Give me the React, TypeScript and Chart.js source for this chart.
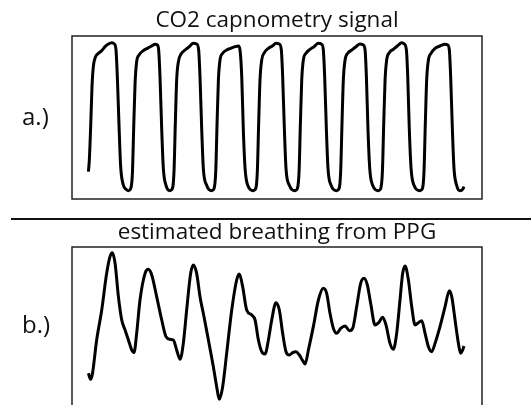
import React, { useEffect, useRef } from "react";
import { Chart, registerables } from "chart.js";

Chart.register(...registerables);

// Time in seconds, CO2 in mmHg (capnometry panel a)
const co2Time = [
  1.23, 1.3, 1.4, 1.5, 1.6, 1.75, 1.98, 2.23, 2.48, 2.73, 2.98, 3.18, 3.3, 3.4, 3.53, 3.65, 3.85, 4.05, 4.23,
  4.4, 4.53, 4.63, 4.73, 4.85, 5.03, 5.35, 5.65, 5.98, 6.23, 6.4, 6.5, 6.6, 6.73, 6.85, 7.05, 7.35,
  7.53, 7.65, 7.75, 7.85, 7.98, 8.18, 8.48, 8.8, 9.1, 9.35, 9.5, 9.6, 9.73, 9.85, 10.1, 10.48,
  10.65, 10.78, 10.88, 10.98, 11.1, 11.3, 11.6, 11.9, 12.23, 12.48, 12.6, 12.73, 12.85, 12.98, 13.18, 13.6,
  13.78, 13.9, 14.0, 14.1, 14.23, 14.43, 14.73, 15.03, 15.3, 15.55, 15.7, 15.8, 15.93, 16.05, 16.3, 16.73,
  16.9, 17.03, 17.13, 17.23, 17.35, 17.55, 17.85, 18.15, 18.48, 18.73, 18.85, 18.95, 19.08, 19.2, 19.43, 19.85,
  20.03, 20.15, 20.25, 20.35, 20.48, 20.68, 20.98, 21.3, 21.6, 21.85, 21.98, 22.08, 22.2, 22.33, 22.55, 22.98,
  23.15, 23.28, 23.38, 23.48, 23.6, 23.8, 24.1, 24.4, 24.73, 24.93, 25.08, 25.18, 25.3, 25.43, 25.65, 26.1,
  26.28, 26.4, 26.5, 26.6, 26.73, 26.93, 27.23, 27.6, 27.98, 28.18, 28.3, 28.4, 28.53, 28.65, 28.85, 29.1, 29.3, 29.4,
];
const co2Values = [
  8.2, 11.7, 21.7, 33.7, 39.7, 42.5, 43.7, 44.5, 45.7, 46.5, 46.9, 46.5, 44.7, 36.7, 21.7, 9.7, 4.2, 2.9, 2.5,
  3.1, 7.7, 21.7, 34.7, 41.2, 43.2, 44.5, 45.2, 45.9, 46.4, 46.2, 44.7, 36.7, 20.7, 9.2, 4.1, 2.5,
  3.1, 8.2, 22.7, 35.7, 41.2, 43.5, 44.7, 45.7, 46.7, 46.5, 44.7, 36.7, 20.7, 9.2, 4.1, 2.5,
  3.1, 8.2, 22.7, 35.7, 41.7, 43.7, 44.7, 45.2, 45.7, 45.9, 44.7, 36.7, 20.7, 9.2, 4.1, 2.5,
  3.1, 8.2, 22.7, 35.7, 41.7, 43.9, 45.2, 45.9, 46.7, 46.5, 44.7, 36.7, 20.7, 9.2, 4.1, 2.5,
  3.1, 8.2, 22.7, 35.7, 41.7, 43.7, 44.9, 45.7, 46.7, 46.4, 44.7, 36.7, 20.7, 9.2, 4.1, 2.5,
  3.1, 8.2, 22.7, 35.7, 41.7, 43.7, 44.7, 45.7, 46.5, 46.2, 44.7, 36.7, 20.7, 9.2, 4.1, 2.5,
  3.1, 8.2, 22.7, 35.7, 41.7, 43.9, 44.9, 45.9, 46.9, 46.5, 44.7, 36.7, 20.7, 9.2, 4.1, 2.5,
  3.1, 8.2, 22.7, 35.7, 41.7, 43.7, 45.2, 45.9, 46.4, 46.2, 44.7, 36.7, 20.7, 9.2, 4.1, 2.5, 2.9, 3.7,
];

// Time in seconds, breathing estimate from PPG in arbitrary units (panel b)
const ppgTime = [
  1.23, 1.4, 1.53, 1.85, 2.23, 2.6, 2.85, 3.03, 3.23, 3.48, 3.73, 3.98, 4.23, 4.48, 4.65,
  4.85, 5.1, 5.48, 5.73, 5.98, 6.35, 6.73, 7.05, 7.35, 7.6, 7.85, 8.1,
  8.35, 8.6, 8.9, 9.1, 9.35, 9.6, 9.9, 10.23, 10.6, 10.85, 11.05,
  11.3, 11.6, 11.98, 12.35, 12.55, 12.8, 13.1, 13.48, 13.73, 13.98, 14.23, 14.48,
  14.73, 14.98, 15.3, 15.55, 15.8, 16.05, 16.3, 16.55, 16.8, 17.05, 17.3, 17.48,
  17.73, 18.1, 18.48, 18.85, 19.1, 19.35, 19.6, 19.85, 20.15, 20.48, 20.8, 21.05,
  21.35, 21.65, 21.9, 22.15, 22.4, 22.73, 23.0, 23.3, 23.55, 23.85, 24.1,
  24.35, 24.6, 24.8, 24.98, 25.23, 25.48, 25.73, 25.98, 26.23, 26.48, 26.73, 26.98,
  27.23, 27.6, 27.98, 28.3, 28.48, 28.73, 28.98, 29.15, 29.3, 29.4,
];
const ppgValues = [
  11.6, 9.8, 11.4, 21.6, 30.6, 41.6, 46.6, 47.8, 44.6, 34.6, 27.6, 24.6, 21.6, 18.6, 17.8,
  23.6, 33.6, 41.6, 42.8, 41.1, 34.6, 27.6, 22.6, 21.8, 21.6, 18.6, 15.8,
  20.6, 30.6, 41.6, 44.1, 41.6, 34.6, 28.6, 21.6, 13.6, 7.6, 3.8,
  7.6, 17.6, 30.6, 39.6, 41.4, 37.6, 30.6, 29.1, 27.6, 21.6, 18.1, 17.4,
  21.6, 27.6, 32.8, 30.6, 23.6, 18.1, 17.1, 17.8, 18.1, 17.1, 15.4, 14.4,
  18.6, 25.6, 33.6, 37.1, 35.6, 29.6, 25.1, 23.6, 25.1, 25.8, 24.4, 25.1,
  31.6, 38.6, 40.1, 38.1, 32.6, 26.1, 26.8, 28.4, 26.1, 20.6, 18.8,
  23.6, 33.6, 41.6, 43.8, 39.6, 31.6, 26.1, 26.8, 27.4, 23.6, 19.6, 18.1,
  20.6, 25.6, 31.6, 36.4, 34.6, 27.6, 20.6, 17.6, 18.6, 19.8,
];

const timeMax = 30.75;
const co2Max = 48.9;
const ppgMax = 49.5;

const FONT = "'Open Sans', 'Noto Sans', sans-serif";
const TITLE_SIZE = 22.5;

const boxPlugin = {
  id: "boxFrame",
  afterDraw(chart: any) {
    const { ctx, chartArea: a } = chart;
    ctx.save();
    ctx.strokeStyle = "#222";
    ctx.lineWidth = 1.5;
    ctx.strokeRect(a.left, a.top, a.right - a.left, a.bottom - a.top);
    ctx.restore();
  },
};

type PanelProps = {
  title: string;
  time: number[];
  values: number[];
  yMax: number;
  top: number;
  height: number;
  titlePad: { top: number; bottom: number };
  bottomPad: number;
};

function Panel({ title, time, values, yMax, top, height, titlePad, bottomPad }: PanelProps) {
  const ref = useRef<HTMLCanvasElement | null>(null);
  useEffect(() => {
    if (!ref.current) return;
    const chart = new Chart(ref.current, {
      type: "line",
      data: {
        datasets: [
          {
            data: time.map((t, i) => ({ x: t, y: values[i] })),
            borderColor: "#000",
            borderWidth: 3,
            pointRadius: 0,
            cubicInterpolationMode: "monotone",
            fill: false,
          },
        ],
      },
      options: {
        animation: false,
        responsive: false,
        maintainAspectRatio: false,
        layout: { padding: { left: 72, right: 49, top: 0, bottom: bottomPad } },
        scales: {
          x: { type: "linear", min: 0, max: timeMax, display: false },
          y: { type: "linear", min: 0, max: yMax, display: false },
        },
        plugins: {
          legend: { display: false },
          tooltip: { enabled: false },
          title: {
            display: true,
            text: title,
            color: "#111",
            font: { family: FONT, size: TITLE_SIZE, weight: "normal", lineHeight: 1.2 },
            padding: titlePad,
          },
        },
      },
      plugins: [boxPlugin],
    } as any);
    return () => chart.destroy();
  }, []);
  return (
    <canvas
      ref={ref}
      width={531}
      height={height}
      style={{ position: "absolute", left: 0, top, width: 531, height }}
    />
  );
}

const labelStyle: React.CSSProperties = {
  position: "absolute",
  left: 22,
  fontFamily: FONT,
  fontSize: 24,
  lineHeight: "28px",
  color: "#111",
};

export default function App() {
  return (
    <div
      style={{
        position: "fixed",
        left: 0,
        top: 0,
        width: 531,
        height: 405,
        overflow: "hidden",
        background: "#fff",
      }}
    >
      <Panel
        title="CO2 capnometry signal"
        time={co2Time}
        values={co2Values}
        yMax={co2Max}
        top={0}
        height={205}
        titlePad={{ top: 7.5, bottom: 1.5 }}
        bottomPad={6}
      />
      <div style={{ position: "absolute", left: 11, top: 218, width: 520, height: 2, background: "#111" }} />
      <Panel
        title="estimated breathing from PPG"
        time={ppgTime}
        values={ppgValues}
        yMax={ppgMax}
        top={210}
        height={205}
        titlePad={{ top: 9.5, bottom: 0.5 }}
        bottomPad={3}
      />
      <div style={{ ...labelStyle, top: 102 }}>a.)</div>
      <div style={{ ...labelStyle, top: 310 }}>b.)</div>
    </div>
  );
}
